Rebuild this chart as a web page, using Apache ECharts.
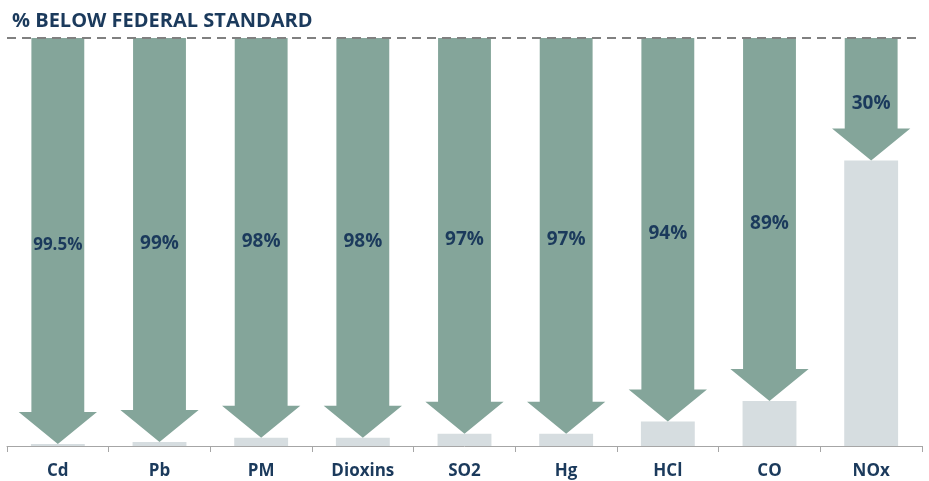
<!DOCTYPE html>
<html>
<head>
<meta charset="utf-8">
<script src="https://cdn.jsdelivr.net/npm/echarts@6/dist/echarts.min.js"></script>
<style>
  html, body { margin: 0; padding: 0; background: #fff; }
  #main { width: 929px; height: 481px; }
</style>
</head>
<body>
<div id="main"></div>
<script>
// pollutants along the axis
var categories = ['Cd', 'Pb', 'PM', 'Dioxins', 'SO2', 'Hg', 'HCl', 'CO', 'NOx'];
// % below the federal standard (arrow length)
var reduction = [99.5, 99, 98, 98, 97, 97, 94, 89, 30];
var reductionLabels = ['99.5%', '99%', '98%', '98%', '97%', '97%', '94%', '89%', '30%'];
// what is left of the standard (grey bar)
var remaining = reduction.map(function (v) { return +(100 - v).toFixed(1); });

var navy = '#1b3a5c';
var green = '#84a59a';
var grey = '#d6dde0';

var chart = echarts.init(document.getElementById('main'));

chart.setOption({
  animation: false,
  title: {
    text: '% BELOW FEDERAL STANDARD',
    left: 7,
    top: 6,
    textStyle: { color: navy, fontSize: 20, fontWeight: 'bold', fontFamily: 'Open Sans' }
  },
  grid: { left: 7, right: 7, top: 38, bottom: 35 },
  xAxis: {
    type: 'category',
    data: categories,
    axisLine: { lineStyle: { color: '#a6a6a6', width: 1 } },
    axisTick: { show: true, length: 6, lineStyle: { color: '#a6a6a6' } },
    axisLabel: { color: navy, fontSize: 17, fontWeight: 'bold', fontFamily: 'Open Sans', margin: 17 }
  },
  yAxis: {
    type: 'value',
    min: 0,
    max: 100,
    show: false
  },
  series: [
    {
      type: 'bar',
      data: remaining,
      barWidth: '53%',
      itemStyle: { color: grey },
      z: 2,
      markLine: {
        silent: true,
        symbol: 'none',
        label: { show: false },
        lineStyle: { color: '#808080', type: [9, 6], width: 2 },
        data: [{ yAxis: 100 }]
      }
    },
    {
      type: 'custom',
      z: 3,
      data: reduction.map(function (v, i) { return [i, v]; }),
      renderItem: function (params, api) {
        var idx = api.value(0);
        var pct = api.value(1);
        var top = api.coord([idx, 100]);
        var tip = api.coord([idx, 100 - pct]);
        var bw = api.size([1, 0])[0];
        var shaft = bw * 0.52;
        var head = bw * 0.77;
        var hh = 32;
        var x = top[0];
        var baseY = tip[1] - hh;
        return {
          type: 'group',
          children: [
            {
              type: 'polygon',
              shape: {
                points: [
                  [x - shaft / 2, top[1]],
                  [x + shaft / 2, top[1]],
                  [x + shaft / 2, baseY],
                  [x + head / 2, baseY],
                  [x, tip[1]],
                  [x - head / 2, baseY],
                  [x - shaft / 2, baseY]
                ]
              },
              style: { fill: green }
            },
            {
              type: 'text',
              style: {
                text: reductionLabels[idx],
                x: x,
                y: (top[1] + tip[1]) / 2 + 4,
                align: 'center',
                verticalAlign: 'middle',
                fill: navy,
                font: 'bold ' + (reductionLabels[idx].length > 4 ? 17 : 19) + 'px "Open Sans"'
              }
            }
          ]
        };
      }
    }
  ]
});
</script>
</body>
</html>
